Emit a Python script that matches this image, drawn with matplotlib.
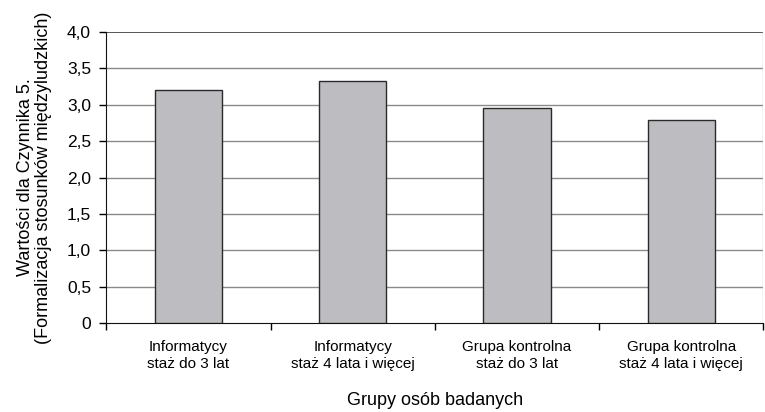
import numpy as np
import matplotlib.pyplot as plt

plt.rcParams['font.family'] = ['Liberation Sans', 'DejaVu Sans']

# data
groups = ['Informatycy\nstaż do 3 lat',
          'Informatycy\nstaż 4 lata i więcej',
          'Grupa kontrolna\nstaż do 3 lat',
          'Grupa kontrolna\nstaż 4 lata i więcej']
values = [3.20, 3.33, 2.95, 2.79]
yticks = [0, 0.5, 1.0, 1.5, 2.0, 2.5, 3.0, 3.5, 4.0]
ytick_labels = ['0', '0,5', '1,0', '1,5', '2,0', '2,5', '3,0', '3,5', '4,0']

fig = plt.figure(figsize=(7.65, 4.12), dpi=100)
ax = fig.add_axes([0.139, 0.216, 0.859, 0.706])

x = np.arange(len(groups))
ax.bar(x, values, width=0.41, color='#bdbdc1', edgecolor='#2a2a2a', linewidth=1.0, zorder=3)

ax.set_xlim(-0.5, len(groups) - 0.5)
ax.set_ylim(0, 4.0)

# horizontal grid, the top one darker like a frame
for t in yticks[1:-1]:
    ax.axhline(t, color='#8a8a8a', linewidth=1.0, zorder=1)
ax.axhline(yticks[-1], color='#4a4a4a', linewidth=1.3, zorder=1)
ax.axvline(len(groups) - 0.5, color='#c8c8c8', linewidth=1.0, zorder=1)

ax.set_yticks(yticks)
ax.set_yticklabels(ytick_labels, fontsize=12.5)
ax.tick_params(axis='y', length=5, width=1, direction='out', pad=6)

# category labels at bar centres, tick marks at the boundaries
ax.set_xticks(x)
ax.set_xticklabels(groups, fontsize=11, linespacing=1.3)
ax.tick_params(axis='x', length=0, pad=12)
ax.set_xticks(np.arange(len(groups) + 1) - 0.5, minor=True)
ax.tick_params(axis='x', which='minor', length=5, width=1, direction='out')

for side in ['top', 'right']:
    ax.spines[side].set_visible(False)
ax.spines['left'].set_color('#111111')
ax.spines['bottom'].set_color('#111111')

ax.set_xlabel('Grupy osób badanych', fontsize=13, labelpad=15)
ax.set_ylabel('Wartości dla Czynnika 5.\n(Formalizacja stosunków międzyludzkich)',
              fontsize=13, linespacing=1.1)
ax.yaxis.set_label_coords(-0.082, 0.5)

fig.savefig('out.png', dpi=100)
